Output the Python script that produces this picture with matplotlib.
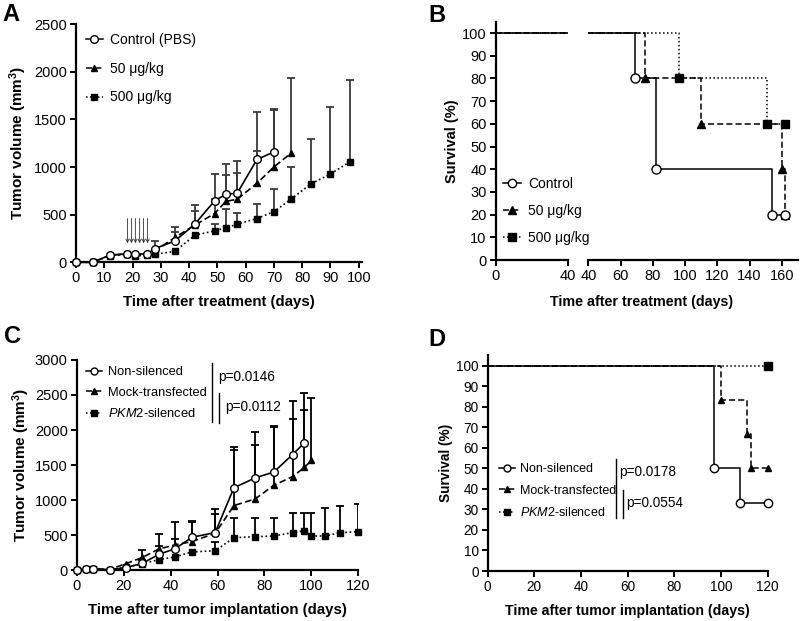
# -*- coding: utf-8 -*-
import numpy as np
import matplotlib
matplotlib.use("Agg")
import matplotlib.pyplot as plt
from matplotlib.lines import Line2D

plt.rcParams['font.family'] = ['Liberation Sans', 'DejaVu Sans']
plt.rcParams['mathtext.fontset'] = 'custom'
plt.rcParams['mathtext.rm'] = 'Liberation Sans'
plt.rcParams['mathtext.it'] = 'Liberation Sans:italic'
plt.rcParams['mathtext.bf'] = 'Liberation Sans:bold'

nan = np.nan

# -----------------------------
# A) volumen tumoral tras tratamiento
# -----------------------------
a_dias_ctrl = [0, 6, 12, 18, 21, 25, 28, 35, 42, 49, 53, 57, 64, 70]
a_ctrl = [0, 0, 77, 90, 88, 88, 145, 225, 400, 645, 715, 725, 1080, 1160]
a_ctrl_sup = [nan, nan, nan, nan, nan, nan, 228, 375, 602, 924, 1033, 1060, 1582, 1610]

a_dias_50 = [0, 6, 12, 18, 21, 25, 28, 35, 42, 49, 53, 57, 64, 70, 76]
a_50 = [0, 0, 75, 85, 80, 85, 120, 262, 390, 512, 640, 662, 830, 1002, 1145]
a_50_sup = [nan, nan, nan, nan, nan, nan, nan, 322, 543, 665, 917, 935, 1172, 1600, 1939]

a_dias_500 = [0, 6, 12, 18, 21, 25, 28, 35, 42, 49, 53, 57, 64, 70, 76, 83, 90, 97]
a_500 = [0, 0, 70, 85, 65, 80, 85, 115, 284, 330, 362, 400, 460, 532, 662, 822, 928, 1058]
a_500_sup = [nan, nan, nan, nan, nan, nan, nan, nan, nan, 403, 557, 515, 613, 767, 1005, 1290, 1630, 1915]

a_inyecciones = [18.2, 19.6, 21.0, 22.5, 23.9, 25.3]
a_etiquetas = ['Control (PBS)', '50 \u03bcg/kg', '500 \u03bcg/kg']

# -----------------------------
# B) supervivencia tras tratamiento
# -----------------------------
b_t_ctrl = [0, 69, 82, 154, 162]
b_s_ctrl = [100, 80, 40, 20, 20]
b_t_50 = [0, 75, 110, 160, 162]
b_s_50 = [100, 80, 60, 40, 20]
b_t_500 = [0, 96, 151, 162]
b_s_500 = [100, 80, 60, 60]
b_etiquetas = ['Control', '50 \u03bcg/kg', '500 \u03bcg/kg']

# -----------------------------
# C) volumen tumoral tras implantacion
# -----------------------------
c_dias_ns = [0, 4, 7, 14, 21, 28, 35, 42, 49, 59, 67, 76, 84, 92, 97]
c_ns = [0, 10, 15, 5, 35, 95, 224, 305, 467, 535, 1175, 1315, 1400, 1650, 1815]
c_ns_sup = [nan, nan, nan, nan, nan, 150, 340, 440, 690, 870, 1760, 1975, 2060, 2420, 2530]

c_dias_mock = [0, 4, 7, 14, 21, 28, 35, 42, 49, 59, 67, 76, 84, 92, 97, 100]
c_mock = [0, 10, 15, 10, 90, 180, 300, 360, 405, 525, 920, 1015, 1210, 1335, 1465, 1565]
c_mock_sup = [nan, nan, nan, nan, nan, 286, 514, 680, 700, 800, 1720, 1780, 2040, 2150, 2290, 2450]

c_dias_pkm = [0, 4, 7, 14, 21, 28, 35, 42, 49, 59, 67, 76, 84, 92, 97, 100, 106, 112, 120]
c_pkm = [0, 10, 15, 5, 40, 90, 148, 188, 258, 275, 462, 476, 486, 535, 560, 486, 486, 533, 548]
c_pkm_sup = [nan, nan, nan, nan, nan, nan, nan, nan, nan, 395, 750, 750, 750, 810, 820, 810, 890, 915, 950]

cd_etiquetas = ['Non-silenced', 'Mock-transfected', '$\\it{PKM2}$-silenced']

# -----------------------------
# D) supervivencia tras implantacion
# -----------------------------
d_t_ns = [0, 97, 108, 120]
d_s_ns = [100, 50, 33.3, 33.3]
d_t_mock = [0, 100, 111, 113, 120]
d_s_mock = [100, 83.3, 66.7, 50, 50]
d_t_pkm = [0, 120]
d_s_pkm = [100, 100]

# estilos de serie: circulo abierto / triangulo / cuadrado
EST = [
    dict(ls='-', marker='o', mfc='white', mec='black', ms=5.5),
    dict(ls=(0, (4, 2)), marker='^', mfc='black', mec='black', ms=5),
    dict(ls=(0, (1, 1.6)), marker='s', mfc='black', mec='black', ms=5),
]


def _ejes(ax, fs=10.5):
    for s in ['top', 'right']:
        ax.spines[s].set_visible(False)
    for s in ['left', 'bottom']:
        ax.spines[s].set_linewidth(1.6)
    ax.tick_params(direction='out', length=4.5, width=1.4, labelsize=fs, pad=2)


def _barras_sup(ax, x, y, sup, color='black'):
    x = np.asarray(x, float); y = np.asarray(y, float); sup = np.asarray(sup, float)
    m = ~np.isnan(sup)
    ax.vlines(x[m], y[m], sup[m], color=color, lw=1.3, zorder=1)
    ax.plot(x[m], sup[m], ls='none', marker='_', ms=6, mew=1.3, color=color, zorder=1)


def _linea(ax, x, y, est, lw=1.2, **kw):
    ax.plot(x, y, color='black', lw=lw, clip_on=False, zorder=3, **est, **kw)


def _escalones(ax, t, s, est, ms=None, clip=False, marcas=True):
    e = dict(est)
    mk = dict(marker=e.pop('marker'), mfc=e.pop('mfc'), mec=e.pop('mec'), ms=ms or e.pop('ms'))
    e.pop('ms', None)
    ax.step(t, s, where='post', color='black', lw=1.1, clip_on=clip, zorder=2, **e)
    if marcas:
        ax.plot(t[1:], s[1:], ls='none', color='black', clip_on=False, zorder=3, **mk)


def _manijas(ests, ms=None):
    h = []
    for e in ests:
        e = dict(e)
        if ms:
            e['ms'] = ms
        h.append(Line2D([], [], color='black', lw=1.1, **e))
    return h


fig = plt.figure(figsize=(8, 6.21), dpi=100)

# ---------- A ----------
axA = fig.add_axes([0.095, 0.5776, 0.357, 0.3833])
_ejes(axA)
_barras_sup(axA, a_dias_ctrl, a_ctrl, a_ctrl_sup, '#3a3a3a')
_barras_sup(axA, a_dias_50, a_50, a_50_sup, '#3a3a3a')
_barras_sup(axA, a_dias_500, a_500, a_500_sup, '#3a3a3a')
_linea(axA, a_dias_500, a_500, EST[2])
_linea(axA, a_dias_50, a_50, EST[1])
_linea(axA, a_dias_ctrl, a_ctrl, EST[0])
for d in a_inyecciones:
    axA.annotate('', xy=(d, 200), xytext=(d, 460),
                 arrowprops=dict(arrowstyle='->', lw=0.6, color='#333333',
                                 shrinkA=0, shrinkB=0, mutation_scale=6))
axA.set_xlim(0, 101)
axA.set_ylim(0, 2500)
axA.set_xticks(range(0, 101, 10))
axA.set_yticks(range(0, 2501, 500))
axA.set_xlabel('Time after treatment (days)', fontsize=10.8, fontweight='bold', labelpad=7)
axA.set_ylabel('Tumor volume (mm$^\\mathbf{3}$)', fontsize=11, fontweight='bold', labelpad=4)
axA.legend(_manijas(EST), a_etiquetas, loc='upper left', bbox_to_anchor=(-0.01, 1.015),
           frameon=False, fontsize=10, handlelength=1.25, handletextpad=0.5, labelspacing=1.05)

# ---------- B (eje x partido) ----------
axB1 = fig.add_axes([0.6196, 0.5813, 0.09, 0.3837])
axB2 = fig.add_axes([0.7354, 0.5813, 0.262, 0.3837])
axB2.patch.set_visible(False)
_ejes(axB1)
_ejes(axB2)
axB2.spines['left'].set_visible(False)
axB2.tick_params(axis='y', left=False, labelleft=False)
for ax, marcas in ((axB1, False), (axB2, True)):
    _escalones(ax, b_t_500, b_s_500, EST[2], ms=6, clip=True, marcas=marcas)
    _escalones(ax, b_t_50, b_s_50, EST[1], ms=5.5, clip=True, marcas=marcas)
    _escalones(ax, b_t_ctrl, b_s_ctrl, EST[0], ms=6.5, clip=True, marcas=marcas)
    ax.set_ylim(0, 105)
axB2.set_xlim(40, 170)
axB1.set_xlim(0, 40)
axB1.set_xticks([0, 40], labels=['0', '40'])
axB2.set_xticks(range(40, 161, 20))
axB1.set_yticks(range(0, 101, 10))
axB1.set_ylabel('Survival (%)', fontsize=10.5, fontweight='bold', labelpad=2)
fig.text(0.802, 0.514, 'Time after treatment (days)', fontsize=10.3, fontweight='bold',
         ha='center', va='center')
leg = axB1.legend(_manijas(EST, ms=6), b_etiquetas, loc='center left', bbox_to_anchor=(0.613, 0.66),
                  bbox_transform=fig.transFigure, frameon=False, fontsize=10,
                  handlelength=1.3, handletextpad=0.5, labelspacing=0.95)
leg.set_zorder(5)

# ---------- C ----------
axC = fig.add_axes([0.0959, 0.0821, 0.352, 0.3382])
_ejes(axC)
_barras_sup(axC, c_dias_ns, c_ns, c_ns_sup)
_barras_sup(axC, c_dias_mock, c_mock, c_mock_sup)
_barras_sup(axC, c_dias_pkm, c_pkm, c_pkm_sup)
_linea(axC, c_dias_pkm, c_pkm, EST[2])
_linea(axC, c_dias_mock, c_mock, EST[1])
_linea(axC, c_dias_ns, c_ns, EST[0])
axC.set_xlim(0, 120)
axC.set_ylim(0, 3000)
axC.set_xticks(range(0, 121, 20))
axC.set_yticks(range(0, 3001, 500))
axC.set_xlabel('Time after tumor implantation (days)', fontsize=10.8, fontweight='bold', labelpad=7)
axC.set_ylabel('Tumor volume (mm$^\\mathbf{3}$)', fontsize=11, fontweight='bold', labelpad=2)
axC.legend(_manijas(EST, ms=5), cd_etiquetas, loc='upper left', bbox_to_anchor=(-0.01, 1.025),
           frameon=False, fontsize=9.3, handlelength=1.25, handletextpad=0.5, labelspacing=0.65)
axC.plot([57.6, 57.6], [2119, 2953], color='black', lw=1.0, clip_on=False)
axC.plot([60.6, 60.6], [2104, 2524], color='black', lw=1.0, clip_on=False)
axC.text(60.3, 2761, 'p=0.0146', fontsize=9.8, va='center')
axC.text(63.4, 2324, 'p=0.0112', fontsize=9.8, va='center')

# ---------- D ----------
axD = fig.add_axes([0.6096, 0.0805, 0.35, 0.3472])
_ejes(axD, fs=9.8)
_escalones(axD, d_t_pkm, d_s_pkm, EST[2], ms=6)
_escalones(axD, d_t_mock, d_s_mock, EST[1], ms=5)
_escalones(axD, d_t_ns, d_s_ns, EST[0], ms=6)
axD.set_xlim(0, 120)
axD.set_ylim(0, 105)
axD.set_xticks(range(0, 121, 20))
axD.set_yticks(range(0, 101, 10))
axD.set_xlabel('Time after tumor implantation (days)', fontsize=10.2, fontweight='bold', labelpad=7)
axD.set_ylabel('Survival (%)', fontsize=9.8, fontweight='bold', labelpad=2)
axD.legend(_manijas(EST, ms=5), cd_etiquetas, loc='center left', bbox_to_anchor=(0.0, 0.37),
           frameon=False, fontsize=9.0, handlelength=1.25, handletextpad=0.45, labelspacing=0.75)
axD.plot([55, 55], [25.8, 54.4], color='black', lw=1.0, clip_on=False)
axD.plot([57.9, 57.9], [25.8, 39.5], color='black', lw=1.0, clip_on=False)
axD.text(56.5, 48.2, 'p=0.0178', fontsize=9.8, va='center')
axD.text(59.3, 33, 'p=0.0554', fontsize=9.8, va='center')

# letras de panel
for letra, x, y in [('A', 0.003, 0.995), ('B', 0.536, 0.993), ('C', 0.005, 0.476), ('D', 0.536, 0.472)]:
    fig.text(x, y, letra, fontsize=17, fontweight='bold', ha='left', va='top')

fig.savefig('out.png', dpi=100)
